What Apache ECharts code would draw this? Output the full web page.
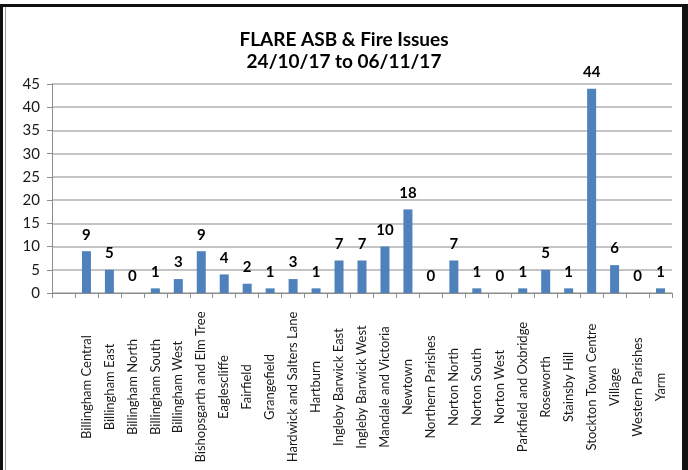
<!DOCTYPE html>
<html lang="en">

<head>
    <meta charset="UTF-8">
    <title>FLARE ASB & Fire Issues</title>
</head>

<body style="margin: 0; background: #fff">
    <div id="container" style="width:688px;height:470px"></div>
    <script type="text/javascript" src="https://cdn.jsdelivr.net/npm/echarts@6.0.0/dist/echarts.min.js"></script>
    <script type="text/javascript">
        // first slot is left blank in the original sheet
        var wards = ['', 'Billingham Central', 'Billingham East', 'Billingham North', 'Billingham South',
            'Billingham West', 'Bishopsgarth and Elm Tree', 'Eaglescliffe', 'Fairfield', 'Grangefield',
            'Hardwick and Salters Lane', 'Hartburn', 'Ingleby Barwick East', 'Ingleby Barwick West',
            'Mandale and Victoria', 'Newtown', 'Northern Parishes', 'Norton North', 'Norton South',
            'Norton West', 'Parkfield and Oxbridge', 'Roseworth', 'Stainsby Hill', 'Stockton Town Centre',
            'Village', 'Western Parishes', 'Yarm'];
        var issues = ['-', 9, 5, 0, 1, 3, 9, 4, 2, 1, 3, 1, 7, 7, 10, 18, 0, 7, 1, 0, 1, 5, 1, 44, 6, 0, 1];
        var yTicks = { min: 0, max: 45, interval: 5 };

        var font = 'Lato, "Open Sans", sans-serif';
        var myChart = echarts.init(document.getElementById('container'));

        var option = {
            backgroundColor: '#fff',
            animation: false,
            textStyle: { fontFamily: font },
            title: {
                text: 'FLARE ASB & Fire Issues\n24/10/17 to 06/11/17',
                left: 'center',
                top: 24,
                textStyle: { fontSize: 19, fontWeight: 'bold', color: '#000', lineHeight: 22, fontFamily: font }
            },
            // frame around the chart, like the pasted sheet
            graphic: [
                { type: 'rect', shape: { x: 0, y: 4, width: 3, height: 466 }, style: { fill: '#111' } },
                { type: 'rect', shape: { x: 0, y: 4, width: 687, height: 3 }, style: { fill: '#111' } },
                { type: 'rect', shape: { x: 682, y: 4, width: 6, height: 466 }, style: { fill: '#111' } },
                { type: 'rect', shape: { x: 5, y: 7, width: 1, height: 463 }, style: { fill: '#999' } }
            ],
            grid: { left: 52, right: 16, top: 84, bottom: 177 },
            xAxis: {
                type: 'category',
                data: wards,
                axisLine: { lineStyle: { color: '#8c8c8c', width: 1 } },
                axisTick: { show: true, length: 5, lineStyle: { color: '#8c8c8c' } },
                axisLabel: {
                    interval: 0,
                    rotate: 90,
                    align: 'center',
                    verticalAlign: 'middle',
                    margin: 94,
                    fontSize: 13,
                    color: '#1a1a1a',
                    fontFamily: font
                }
            },
            yAxis: {
                type: 'value',
                min: yTicks.min,
                max: yTicks.max,
                interval: yTicks.interval,
                axisLine: { show: true, lineStyle: { color: '#8c8c8c' } },
                axisTick: { show: true, length: 5, lineStyle: { color: '#8c8c8c' } },
                axisLabel: { fontSize: 15, color: '#1a1a1a', margin: 12, fontFamily: font },
                splitLine: { lineStyle: { color: '#b0b0b0', width: 1.5 } }
            },
            series: [{
                type: 'bar',
                data: issues,
                barWidth: 9,
                itemStyle: { color: '#4f81bd' },
                label: {
                    show: true,
                    position: 'top',
                    distance: 9,
                    fontSize: 15,
                    fontWeight: 'bold',
                    color: '#000',
                    fontFamily: font
                }
            }]
        };
        myChart.setOption(option);
    </script>
</body>

</html>
